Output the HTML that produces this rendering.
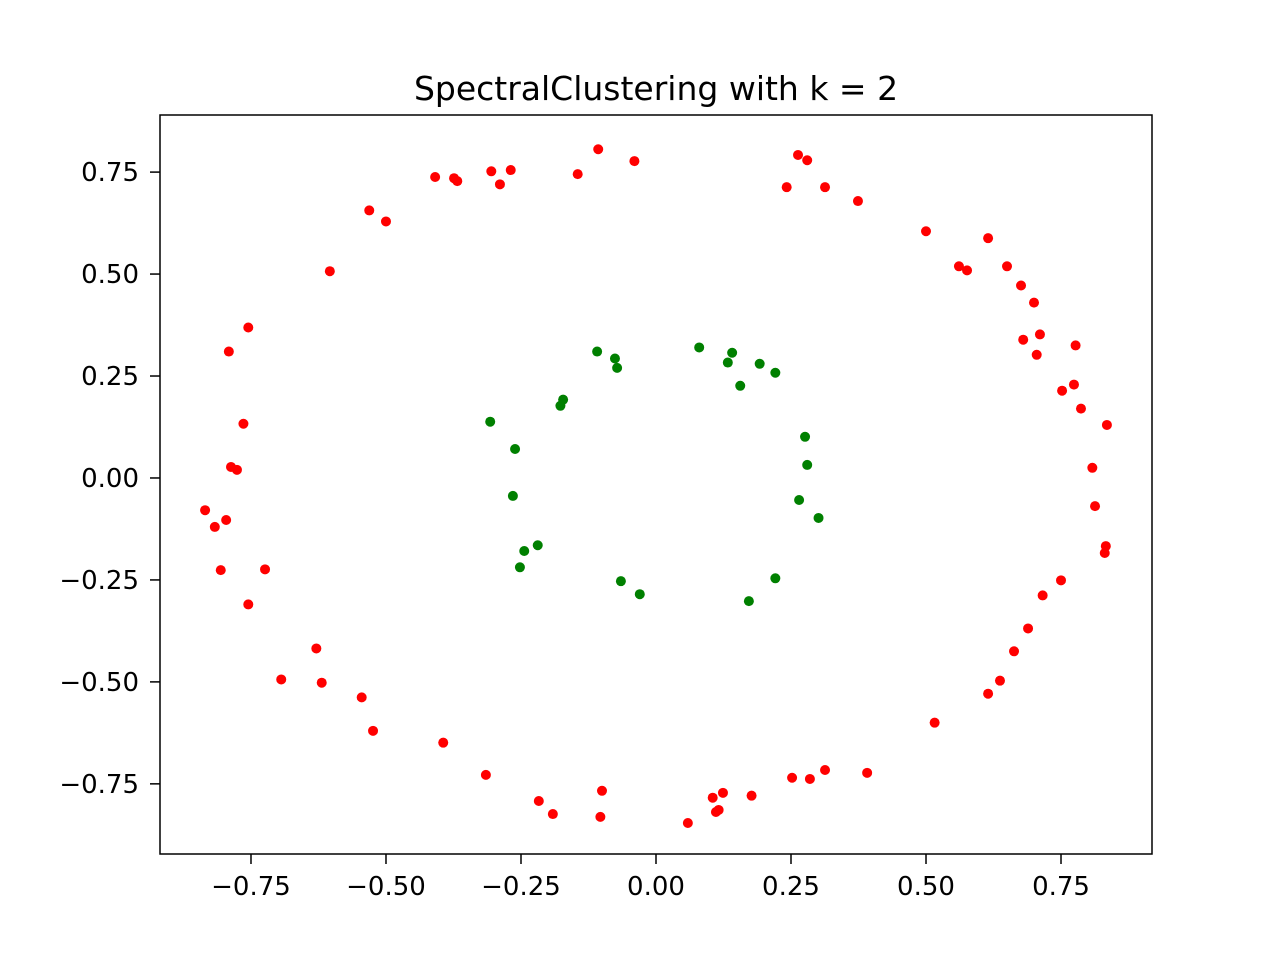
<!DOCTYPE html>
<html><head><meta charset="utf-8"><style>
body{margin:0;background:#fff;}
svg text{font-family:"DejaVu Sans","Liberation Sans",sans-serif;}
</style></head><body>
<svg id="chart" width="1280" height="960" xmlns="http://www.w3.org/2000/svg">
<rect width="1280" height="960" fill="#fff"/>
<text x="656" y="100" font-size="33" text-anchor="middle">SpectralClustering with k = 2</text>
<g id="marks"></g>
<g id="axes"></g>
<rect x="160" y="115" width="992" height="739" fill="none" stroke="#000" stroke-width="1.5"/>
</svg>
<script>
const xTicks=[-0.75,-0.5,-0.25,0,0.25,0.5,0.75];
const yTicks=[-0.75,-0.5,-0.25,0,0.25,0.5,0.75];
const redX=[-0.107,-0.040,-0.145,-0.269,-0.305,-0.289,-0.409,-0.374,-0.368,-0.531,-0.500,-0.604,-0.755,-0.791,-0.764,-0.787,-0.776,-0.835,-0.796,-0.817,-0.806,-0.724,-0.755,-0.629,-0.694,-0.619,-0.545,-0.524,-0.394,-0.315,-0.217,-0.191,-0.100,-0.103,0.059,0.105,0.124,0.111,0.116,0.177,0.252,0.285,0.313,0.391,0.516,0.615,0.637,0.663,0.689,0.716,0.750,0.831,0.833,0.813,0.808,0.835,0.787,0.752,0.774,0.777,0.711,0.680,0.705,0.700,0.676,0.650,0.615,0.561,0.576,0.500,0.374,0.313,0.242,0.263,0.280];
const redY=[0.806,0.777,0.745,0.755,0.752,0.720,0.738,0.735,0.728,0.656,0.629,0.507,0.369,0.310,0.133,0.027,0.020,-0.079,-0.103,-0.120,-0.226,-0.224,-0.310,-0.418,-0.494,-0.502,-0.538,-0.620,-0.649,-0.728,-0.792,-0.824,-0.767,-0.831,-0.846,-0.784,-0.772,-0.819,-0.814,-0.779,-0.735,-0.738,-0.716,-0.723,-0.600,-0.529,-0.497,-0.425,-0.369,-0.288,-0.251,-0.184,-0.167,-0.069,0.025,0.130,0.170,0.214,0.229,0.325,0.352,0.339,0.302,0.430,0.472,0.519,0.588,0.519,0.509,0.605,0.679,0.713,0.713,0.792,0.779];
const greenX=[-0.109,-0.076,-0.072,0.080,0.141,0.133,0.192,0.221,0.156,-0.172,-0.177,-0.307,-0.261,0.276,0.280,-0.265,0.265,0.301,-0.219,-0.244,-0.252,-0.065,-0.030,0.221,0.172];
const greenY=[0.310,0.293,0.270,0.320,0.307,0.283,0.280,0.258,0.226,0.192,0.177,0.138,0.071,0.101,0.032,-0.044,-0.054,-0.098,-0.165,-0.179,-0.219,-0.253,-0.285,-0.246,-0.302];
const xMin=-0.9185,xMax=0.9185,yMin=-0.922,yMax=0.89;
const L=160,R=1152,T=115,B=854;
const sx=v=>L+(v-xMin)/(xMax-xMin)*(R-L);
const sy=v=>B-(v-yMin)/(yMax-yMin)*(B-T);
const NS="http://www.w3.org/2000/svg";
const marks=document.getElementById('marks'),axes=document.getElementById('axes');
const fmt=v=>(v<0?"\u2212":"")+Math.abs(v).toFixed(2);
function dots(xs,ys,color,name){
  xs.forEach((x,i)=>{
    const c=document.createElementNS(NS,'circle');
    c.setAttribute('cx',sx(x));c.setAttribute('cy',sy(ys[i]));c.setAttribute('r',5);c.setAttribute('fill',color);
    
    
    marks.appendChild(c);
  });
}
dots(redX,redY,'#ff0000','red-point');
dots(greenX,greenY,'#008000','green-point');
xTicks.forEach(v=>{
  const x=sx(v);
  const l=document.createElementNS(NS,'line');
  l.setAttribute('x1',x);l.setAttribute('x2',x);l.setAttribute('y1',B);l.setAttribute('y2',B+10);l.setAttribute('stroke','#000');l.setAttribute('stroke-width','1.5');
  
  
  axes.appendChild(l);
  const t=document.createElementNS(NS,'text');
  t.setAttribute('x',x);t.setAttribute('y',895);t.setAttribute('font-size','26');t.setAttribute('text-anchor','middle');
  t.textContent=fmt(v);
  
  
  axes.appendChild(t);
});
yTicks.forEach(v=>{
  const y=sy(v);
  const l=document.createElementNS(NS,'line');
  l.setAttribute('x1',L-10);l.setAttribute('x2',L);l.setAttribute('y1',y);l.setAttribute('y2',y);l.setAttribute('stroke','#000');l.setAttribute('stroke-width','1.5');
  
  
  axes.appendChild(l);
  const t=document.createElementNS(NS,'text');
  t.setAttribute('x',139);t.setAttribute('y',y+9);t.setAttribute('font-size','26');t.setAttribute('text-anchor','end');
  t.textContent=fmt(v);
  
  
  axes.appendChild(t);
});
</script>
</body></html>
